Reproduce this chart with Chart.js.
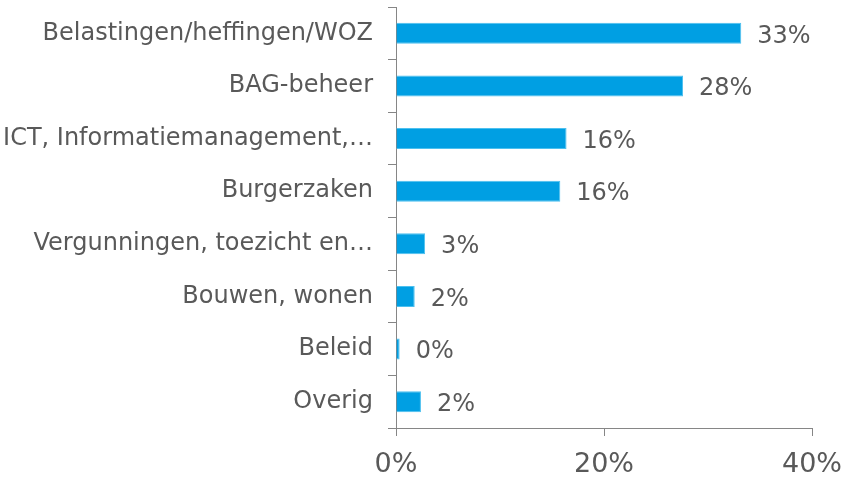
<!DOCTYPE html>
<html>
<head>
<meta charset="utf-8">
<script src="https://cdn.jsdelivr.net/npm/chart.js@4"></script>
<style>
  html, body { margin: 0; padding: 0; background: #fff; }
  #wrap { width: 854px; height: 478px; }
</style>
</head>
<body>
<div id="wrap"><canvas id="chart"></canvas></div>
<script>
const categories = [
  "Belastingen/heffingen/WOZ",
  "BAG-beheer",
  "ICT, Informatiemanagement,…",
  "Burgerzaken",
  "Vergunningen, toezicht en…",
  "Bouwen, wonen",
  "Beleid",
  "Overig"
];
const shares = [33.2, 27.6, 16.4, 15.8, 2.8, 1.8, 0.35, 2.4];
const xTicks = [0, 20, 40];

const textColor = "#595959";
const axisColor = "#868686";
const font = "'DejaVu Sans', Verdana, sans-serif";

// value labels at bar ends
const valueLabels = {
  id: "valueLabels",
  afterDatasetsDraw(chart) {
    const ctx = chart.ctx;
    const meta = chart.getDatasetMeta(0);
    ctx.save();
    ctx.font = "24px " + font;
    ctx.fillStyle = textColor;
    ctx.textAlign = "left";
    ctx.textBaseline = "middle";
    meta.data.forEach((bar, i) => {
      ctx.fillText(Math.round(shares[i]) + "%", bar.x + 16, bar.y + 3);
    });
    ctx.restore();
  }
};

new Chart(document.getElementById("chart"), {
  type: "bar",
  data: {
    labels: categories,
    datasets: [{
      data: shares,
      backgroundColor: "#009fe3",
      borderColor: "#4cc0ef",
      borderWidth: 1,
      borderSkipped: "start",
      barPercentage: 0.4,
      categoryPercentage: 1
    }]
  },
  options: {
    indexAxis: "y",
    responsive: true,
    maintainAspectRatio: false,
    animation: false,
    layout: { padding: { top: 7, right: 42, left: 0, bottom: 0 } },
    plugins: {
      legend: { display: false },
      tooltip: { enabled: false }
    },
    scales: {
      x: {
        min: 0,
        max: 40,
        afterBuildTicks: axis => { axis.ticks = xTicks.map(v => ({ value: v })); },
        afterFit: axis => { axis.height = 50; axis.paddingLeft = 0; axis.paddingRight = 0; },
        grid: { drawOnChartArea: false, tickLength: 8, color: axisColor },
        border: { color: axisColor },
        ticks: {
          color: textColor,
          font: { family: font, size: 27 },
          padding: 13,
          maxRotation: 0,
          callback: v => v + "%"
        }
      },
      y: {
        afterFit: axis => { axis.width = 396; axis.paddingTop = 0; axis.paddingBottom = 0; },
        grid: { drawOnChartArea: false, tickLength: 8, color: axisColor, offset: true },
        border: { color: axisColor },
        ticks: {
          color: textColor,
          font: { family: font, size: 24 },
          padding: 15,
          autoSkip: false
        }
      }
    }
  },
  plugins: [valueLabels]
});
</script>
</body>
</html>
